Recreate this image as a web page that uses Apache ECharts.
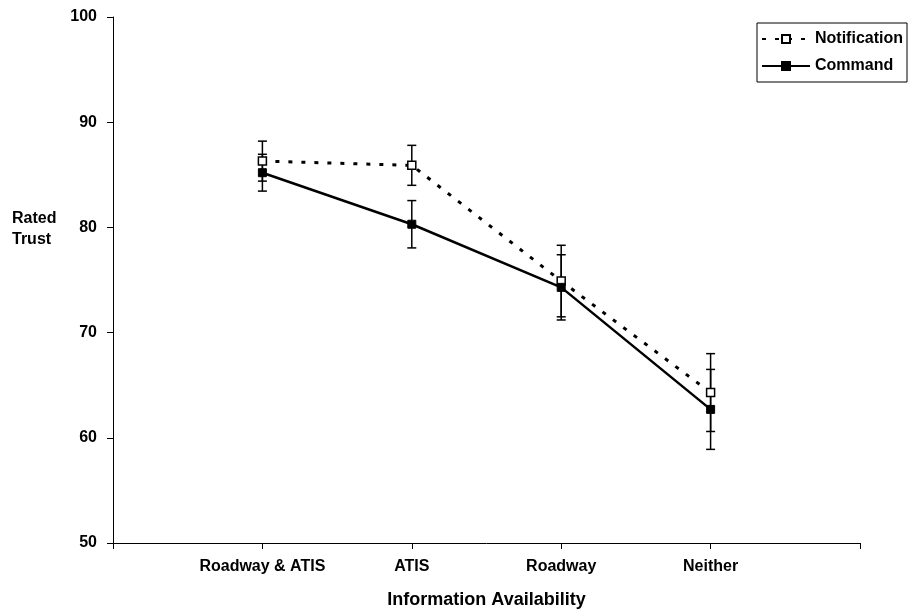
<!DOCTYPE html>
<html><head><meta charset="utf-8">
<script src="https://cdn.jsdelivr.net/npm/echarts@6/dist/echarts.min.js"></script>
<style>html,body{margin:0;padding:0;background:#fff}#c{width:908px;height:614px}</style>
</head><body><div id="c"></div>
<script>
var categories = ["Roadway & ATIS", "ATIS", "Roadway", "Neither"];
var notification = [86.3, 85.9, 74.9, 64.3];
var notificationErr = [1.9, 1.9, 3.4, 3.7];
var command = [85.2, 80.3, 74.3, 62.7];
var commandErr = [1.75, 2.25, 3.1, 3.8];
var yTicks = [50, 60, 70, 80, 90, 100];

var F = '"Liberation Sans", Arial, sans-serif';
function pts(vals){ return vals.map(function(v,i){ return [i+1, v]; }); }
function errData(vals, errs){ return vals.map(function(v,i){ return [i+1, v-errs[i], v+errs[i]]; }); }
function errRender(params, api){
  var lo = api.coord([api.value(0), api.value(1)]);
  var hi = api.coord([api.value(0), api.value(2)]);
  var w = 4.5;
  var st = {stroke:'#000', lineWidth:1.5};
  return {type:'group', children:[
    {type:'line', shape:{x1:lo[0],y1:lo[1],x2:hi[0],y2:hi[1]}, style:st},
    {type:'line', shape:{x1:lo[0]-w,y1:lo[1],x2:lo[0]+w,y2:lo[1]}, style:st},
    {type:'line', shape:{x1:hi[0]-w,y1:hi[1],x2:hi[0]+w,y2:hi[1]}, style:st}
  ]};
}
var chart = echarts.init(document.getElementById('c'), null, {renderer:'canvas'});
chart.setOption({
  animation:false,
  backgroundColor:'#fff',
  grid:{left:113, right:48, top:17, bottom:70},
  graphic:[{type:'text', left:12, top:208,
    style:{text:'Rated\nTrust', fontFamily:F, fontWeight:'bold', fontSize:16, lineHeight:21, fill:'#000'}}],
  legend:{
    orient:'vertical', right:1, top:23, padding:[8,4,8,4], itemGap:11,
    borderColor:'#000', borderWidth:1, backgroundColor:'#fff',
    itemWidth:48, itemHeight:10,
    textStyle:{fontFamily:F, fontWeight:'bold', fontSize:16, color:'#000'},
    data:['Notification','Command']
  },
  xAxis:{
    type:'value', min:0, max:5, interval:1,
    name:'Information Availability', nameLocation:'middle', nameGap:48,
    nameTextStyle:{fontFamily:F, fontWeight:'bold', fontSize:18, color:'#000'},
    axisLine:{lineStyle:{color:'#000', width:1}},
    axisTick:{show:true, length:6, lineStyle:{color:'#000'}},
    splitLine:{show:false},
    axisLabel:{margin:16, fontFamily:F, fontWeight:'bold', fontSize:16, color:'#000',
      formatter:function(v){ return categories[v-1] || ''; }}
  },
  yAxis:{
    type:'value', min:yTicks[0], max:yTicks[yTicks.length-1], interval:10,
    axisLine:{show:true, lineStyle:{color:'#000', width:1}},
    axisTick:{show:true, length:6, lineStyle:{color:'#000'}},
    splitLine:{show:false},
    axisLabel:{margin:16, fontFamily:F, fontWeight:'bold', fontSize:16, color:'#000'}
  },
  series:[
    {type:'custom', name:'errN', renderItem:errRender, data:errData(notification, notificationErr), z:1, silent:true},
    {type:'custom', name:'errC', renderItem:errRender, data:errData(command, commandErr), z:1, silent:true},
    {type:'line', name:'Notification', data:pts(notification), z:3,
      symbol:'rect', symbolSize:8,
      lineStyle:{color:'#000', width:3, type:[4,9]},
      itemStyle:{color:'#fff', borderColor:'#000', borderWidth:1.5}},
    {type:'line', name:'Command', data:pts(command), z:4,
      symbol:'rect', symbolSize:8,
      lineStyle:{color:'#000', width:2.5, type:'solid'},
      itemStyle:{color:'#000', borderColor:'#000', borderWidth:1}}
  ]
});
</script></body></html>
